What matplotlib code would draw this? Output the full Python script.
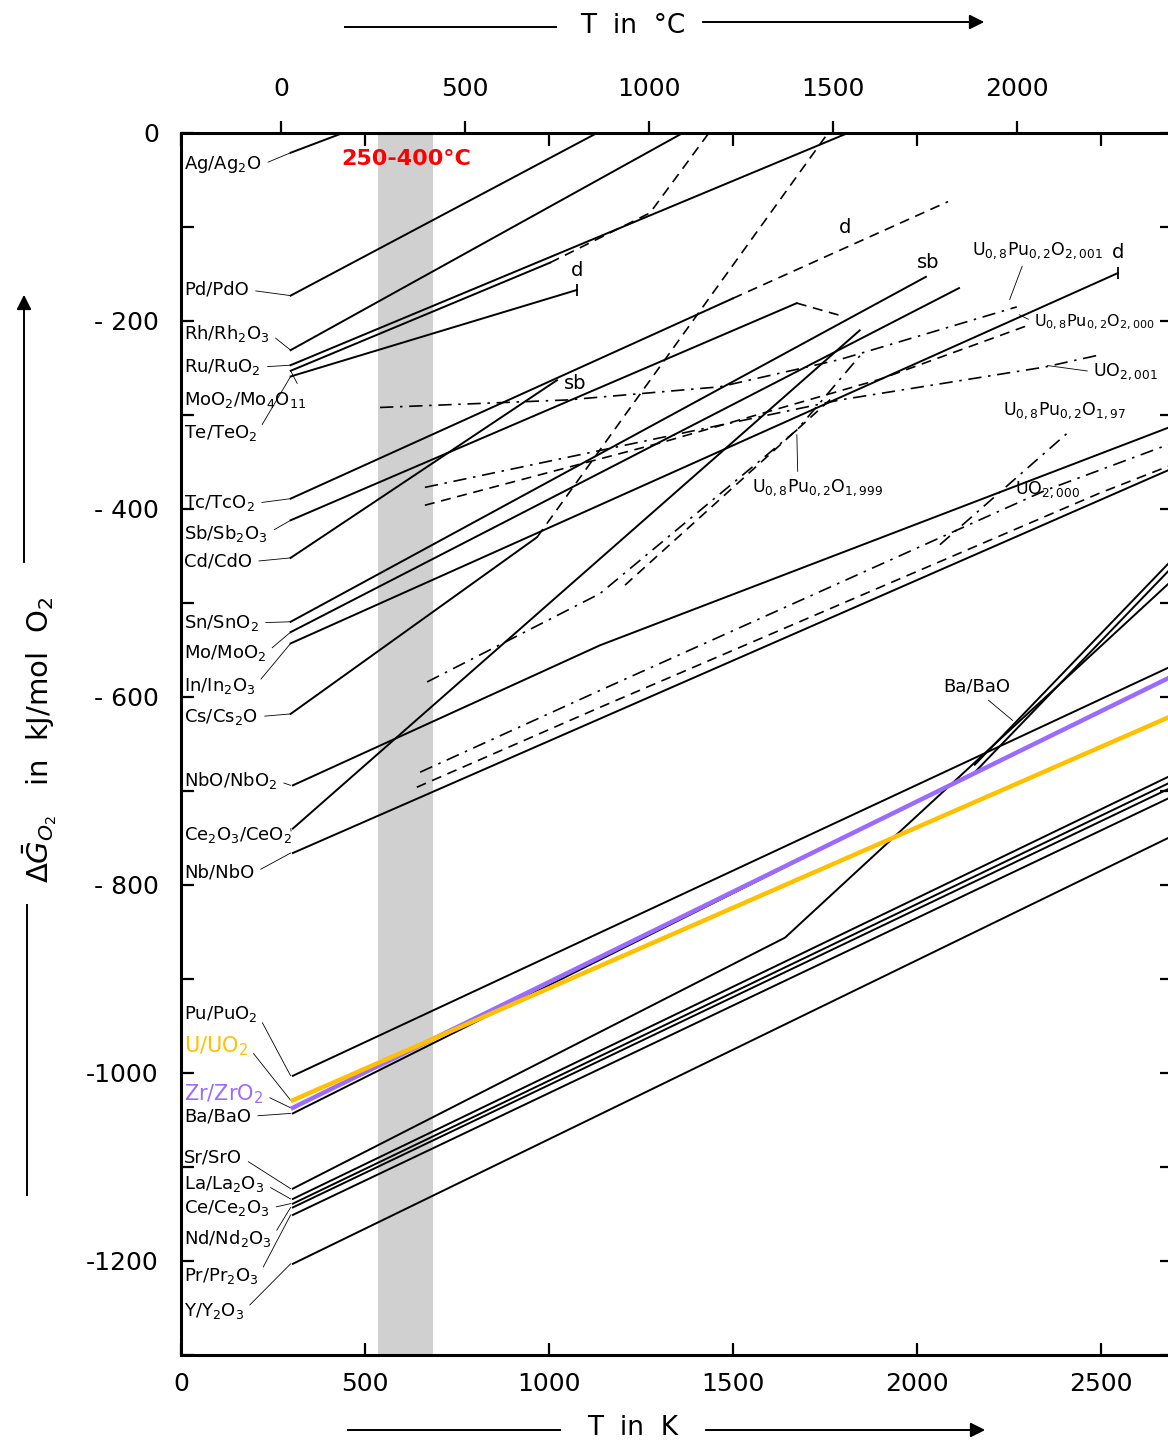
import matplotlib
matplotlib.use('Agg')
import matplotlib.pyplot as plt
from matplotlib.lines import Line2D
from matplotlib.patches import FancyArrowPatch

# ---- data: T in K, dG in kJ/mol O2 ----
# solid metal/oxide lines (start at 298 K)
ag_T = [298, 440];            ag_G = [-21, 0]
pd_T = [298, 1131];           pd_G = [-173, 0]
rh_T = [298, 1364];           rh_G = [-231, 0]
ru_T = [298, 1813];           ru_G = [-247, 0]
mo4_T = [298, 1003];          mo4_G = [-253, -138]
mo4d_T = [1003, 1275, 1435];  mo4d_G = [-138, -85, 0]
te_T = [298, 1076];           te_G = [-259, -167]
tc_T = [298, 1500];           tc_G = [-389, -176]
tcd_T = [1500, 2085];         tcd_G = [-176, -73]
sb_T = [298, 1674];           sb_G = [-412, -181]
sbd_T = [1674, 1791];         sbd_G = [-181, -194]
cd_T = [298, 1022];           cd_G = [-452, -263]
sn_T = [298, 2025];           sn_G = [-520, -153]
mo_T = [298, 2115];           mo_G = [-531, -165]
in_T = [298, 2547];           in_G = [-543, -149]
cs_T = [298, 968];            cs_G = [-618, -430]
csd_T = [968, 1759];          csd_G = [-430, 0]
nbo_T = [304, 1139, 2694];    nbo_G = [-694, -545, -312]
ce2_T = [304, 1514, 1845];    ce2_G = [-740, -324, -210]
nb_T = [304, 2694];           nb_G = [-766, -357]
pu_T = [304, 2694];           pu_G = [-1003, -567]
u_T = [304, 2694];            u_G = [-1029, -620]
zr_T = [304, 2694];           zr_G = [-1037, -578]
ba_T = [304, 2158, 2694];     ba_G = [-1043, -680, -462]
sr_T = [304, 1642, 2694];     sr_G = [-1123, -856, -476]
la_T = [304, 2694];           la_G = [-1134, -683]
ce_T = [304, 2694];           ce_G = [-1139, -690]
nd_T = [304, 2694];           nd_G = [-1143, -696]
pr_T = [304, 2694];           pr_G = [-1151, -706]
y_T = [304, 2694];            y_G = [-1203, -748]

# oxygen potentials of (U,Pu)O2+-x
upo2001_T = [541, 1049, 1465, 1791, 2272];  upo2001_G = [-292, -284, -270, -241, -185]
uo2001_T = [663, 1791, 2348, 2498];         uo2001_G = [-377, -284, -249, -236]
upo2000_T = [663, 1300, 1900, 2300];        upo2000_G = [-396, -330, -262, -205]
upo197_T = [2063, 2419];                    upo197_G = [-438, -316]
upo1999_T = [669, 1139, 1674, 1850];        upo1999_G = [-584, -490, -316, -235]
upo1999b_T = [1207, 1778];                  upo1999b_G = [-481, -279]
uo2000a_T = [650, 1139, 2351, 2694];        uo2000a_G = [-680, -593, -380, -330]
uo2000b_T = [641, 1139, 2498, 2694];        uo2000b_G = [-696, -611, -383, -353]

left_labels = [r'Ag/Ag$_2$O', 'Pd/PdO', r'Rh/Rh$_2$O$_3$', r'Ru/RuO$_2$',
               r'MoO$_2$/Mo$_4$O$_{11}$', r'Te/TeO$_2$', r'Tc/TcO$_2$',
               r'Sb/Sb$_2$O$_3$', 'Cd/CdO', r'Sn/SnO$_2$', r'Mo/MoO$_2$',
               r'In/In$_2$O$_3$', r'Cs/Cs$_2$O', r'NbO/NbO$_2$',
               r'Ce$_2$O$_3$/CeO$_2$', 'Nb/NbO', r'Pu/PuO$_2$', r'U/UO$_2$',
               r'Zr/ZrO$_2$', 'Ba/BaO', 'Sr/SrO', r'La/La$_2$O$_3$',
               r'Ce/Ce$_2$O$_3$', r'Nd/Nd$_2$O$_3$', r'Pr/Pr$_2$O$_3$',
               r'Y/Y$_2$O$_3$']
left_label_G = [-34, -167, -213, -249, -284, -319, -394, -426, -456, -521,
                -553, -588, -621, -689, -747, -787, -937, -972, -1023, -1046,
                -1090, -1118, -1144, -1176, -1216, -1253]
left_start_G = [-21, -173, -231, -247, -253, -259, -389, -412, -452, -520,
                -531, -543, -618, -694, -740, -766, -1003, -1029, -1037, -1043,
                -1123, -1134, -1139, -1143, -1151, -1203]

band_K = [535, 685]
xticks_K = [0, 500, 1000, 1500, 2000, 2500]
xticks_C = [0, 500, 1000, 1500, 2000]
yticks = [0, -200, -400, -600, -800, -1000, -1200]
ytick_labels = ['0', '- 200', '- 400', '- 600', '- 800', '-1000', '-1200']

ORANGE = '#FFC000'
PURPLE = '#9B6BFF'

fig = plt.figure(figsize=(11.68, 14.43), dpi=100)
ax = fig.add_axes([181 / 1168, 88 / 1443, 991 / 1168, 1222 / 1443])
ax.set_xlim(0, 2694)
ax.set_ylim(-1300, 0)

ax.axvspan(band_K[0], band_K[1], color='#d0d0d0', lw=0, zorder=0)
ax.text(612, -28, '250-400°C', color='red', fontsize=16, fontweight='bold',
        ha='center', va='center')

kw = dict(color='black', lw=1.4)
solid = [(ag_T, ag_G), (pd_T, pd_G), (rh_T, rh_G), (ru_T, ru_G), (mo4_T, mo4_G),
         (te_T, te_G), (tc_T, tc_G), (sb_T, sb_G), (cd_T, cd_G), (sn_T, sn_G),
         (mo_T, mo_G), (in_T, in_G), (cs_T, cs_G), (nbo_T, nbo_G), (ce2_T, ce2_G),
         (nb_T, nb_G), (pu_T, pu_G), (ba_T, ba_G), (sr_T, sr_G), (la_T, la_G),
         (ce_T, ce_G), (nd_T, nd_G), (pr_T, pr_G), (y_T, y_G)]
for t, g in solid:
    ax.plot(t, g, **kw)
# second stroke of the double line
ax.plot(ba_T[1:], [v + 8 for v in ba_G[1:]], **kw)

dashed = [(mo4d_T, mo4d_G), (tcd_T, tcd_G), (sbd_T, sbd_G), (csd_T, csd_G),
          (upo2000_T, upo2000_G), (uo2000b_T, uo2000b_G), (upo1999b_T, upo1999b_G)]
for t, g in dashed:
    ax.plot(t, g, color='black', lw=1.2, dashes=(6, 4))
dashdot = [(upo2001_T, upo2001_G), (uo2001_T, uo2001_G), (upo197_T, upo197_G),
           (upo1999_T, upo1999_G), (uo2000a_T, uo2000a_G)]
for t, g in dashdot:
    ax.plot(t, g, color='black', lw=1.2, dashes=(8, 4, 1.5, 4))

ax.plot(zr_T, zr_G, color=PURPLE, lw=3.2, zorder=5)
ax.plot(u_T, u_G, color=ORANGE, lw=3.2, zorder=5)

# end bars
for t, g in [(te_T[-1], te_G[-1]), (in_T[-1], in_G[-1])]:
    ax.plot([t], [g], marker='|', ms=9, mew=1.3, color='black')

# left labels with leader lines
for lab, gl, gs in zip(left_labels, left_label_G, left_start_G):
    col = 'black'
    fs = 13
    if lab.startswith('U/'):
        col, fs = ORANGE, 15
    elif lab.startswith('Zr/'):
        col, fs = PURPLE, 15
    ax.annotate(lab, xy=(298, gs), xytext=(8, gl), color=col, fontsize=fs,
                ha='left', va='center',
                arrowprops=dict(arrowstyle='-', lw=0.6, color='black',
                                shrinkA=3, shrinkB=0, relpos=(1, 0.5)))

# in-plot labels
txt = [(1076, -146, 'd'), (1805, -101, 'd'), (2547, -127, 'd'),
       (1071, -266, 'sb'), (2030, -138, 'sb')]
for t, g, s in txt:
    ax.text(t, g, s, fontsize=14, ha='center', va='center')

ax.annotate(r'U$_{0,8}$Pu$_{0,2}$O$_{2,001}$', xy=(2250, -180), xytext=(2150, -125),
            fontsize=12.5, ha='left', va='center',
            arrowprops=dict(arrowstyle='-', lw=0.6, relpos=(0.4, 0)))
ax.annotate(r'U$_{0,8}$Pu$_{0,2}$O$_{2,000}$', xy=(2272, -192), xytext=(2318, -201),
            fontsize=11.5, ha='left', va='center',
            arrowprops=dict(arrowstyle='-', lw=0.6, relpos=(0, 0.5)))
ax.annotate(r'UO$_{2,001}$', xy=(2348, -247), xytext=(2479, -254),
            fontsize=12.5, ha='left', va='center',
            arrowprops=dict(arrowstyle='-', lw=0.6, relpos=(0, 0.5)))
ax.text(2234, -295, r'U$_{0,8}$Pu$_{0,2}$O$_{1,97}$', fontsize=12.5, ha='left', va='center')
ax.annotate(r'U$_{0,8}$Pu$_{0,2}$O$_{1,999}$', xy=(1674, -318), xytext=(1552, -377),
            fontsize=12.5, ha='left', va='center',
            arrowprops=dict(arrowstyle='-', lw=0.6, relpos=(0.35, 1)))
ax.text(2267, -380, r'UO$_{2,000}$', fontsize=12.5, ha='left', va='center')
ax.annotate('Ba/BaO', xy=(2267, -627), xytext=(2071, -589),
            fontsize=13, ha='left', va='center',
            arrowprops=dict(arrowstyle='-', lw=0.6, relpos=(0.6, 0)))

# axes, ticks
for sp in ax.spines.values():
    sp.set_linewidth(2.2)
ax.set_xticks(xticks_K)
ax.set_xticklabels([str(v) for v in xticks_K])
ax.set_yticks(yticks)
ax.set_yticklabels(ytick_labels)
ax.set_yticks(range(-1300, 1, 100), minor=True)
ax.tick_params(axis='both', which='both', direction='in', length=9, width=1.6,
               labelsize=18, top=True, right=True)
ax.tick_params(axis='x', which='major', pad=12)
ax.tick_params(axis='y', which='major', pad=16)
ax.tick_params(axis='x', which='minor', bottom=False, top=False)

sec = ax.secondary_xaxis('top', functions=(lambda k: k - 273, lambda c: c + 273))
sec.set_xticks(xticks_C)
sec.set_xticklabels([str(v) for v in xticks_C])
sec.tick_params(direction='out', length=9, width=1.6, labelsize=18, pad=14)
sec.spines['top'].set_visible(False)


def fx(px):
    return px / 1168


def fy(py):
    return 1 - py / 1443


# axis titles with arrows
fig.text(fx(633), fy(26), 'T  in  °C', fontsize=19, ha='center', va='center')
fig.add_artist(Line2D([fx(345), fx(556)], [fy(27), fy(27)], color='black', lw=1.4))
fig.add_artist(FancyArrowPatch((fx(700), fy(22)), (fx(987), fy(22)),
                               transform=fig.transFigure, arrowstyle='-|>',
                               mutation_scale=22, color='black', lw=1.4))
fig.text(fx(633), fy(1428), 'T  in  K', fontsize=19, ha='center', va='center')
fig.add_artist(Line2D([fx(348), fx(560)], [fy(1430), fy(1430)], color='black', lw=1.4))
fig.add_artist(FancyArrowPatch((fx(703), fy(1430)), (fx(988), fy(1430)),
                               transform=fig.transFigure, arrowstyle='-|>',
                               mutation_scale=22, color='black', lw=1.4))
fig.text(fx(40), fy(740), r'$\Delta\bar{G}_{O_2}$   in  kJ/mol  O$_2$', fontsize=21,
         rotation=90, ha='center', va='center')
fig.add_artist(Line2D([fx(27), fx(27)], [fy(1195), fy(905)], color='black', lw=1.4))
fig.add_artist(FancyArrowPatch((fx(24), fy(565)), (fx(24), fy(292)),
                               transform=fig.transFigure, arrowstyle='-|>',
                               mutation_scale=22, color='black', lw=1.4))

fig.savefig('out.png', dpi=100)
